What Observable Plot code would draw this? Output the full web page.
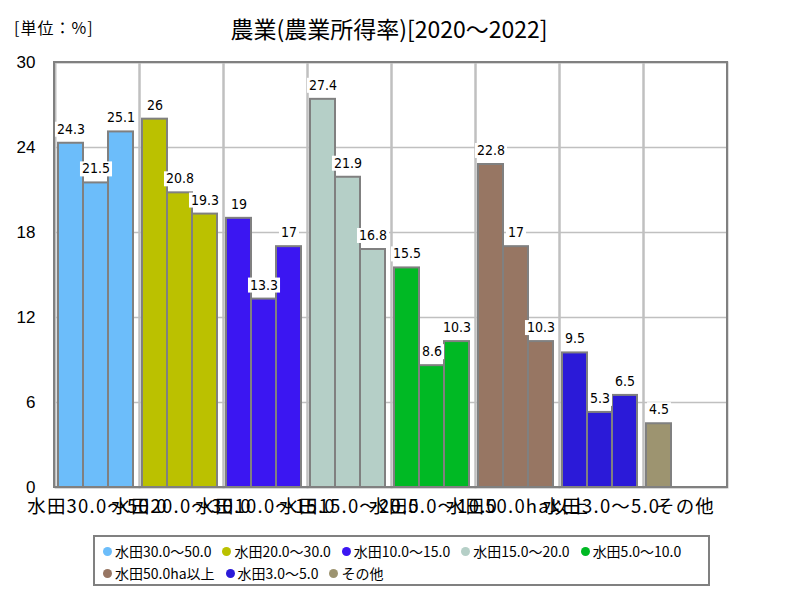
<!DOCTYPE html>
<html>
<head>
<meta charset="utf-8">
<script src="https://cdn.jsdelivr.net/npm/d3@7"></script>
<script src="https://cdn.jsdelivr.net/npm/@observablehq/plot@0.6"></script>
<style>
  html, body { margin: 0; padding: 0; background: #fff; }
  #wrap { position: relative; width: 800px; height: 600px; overflow: hidden; font-family: "Noto Sans CJK JP", sans-serif; }
  #unit { position: absolute; left: 14px; top: 15px; font-size: 16px; letter-spacing: 1px; color: #000; }
  #title { position: absolute; left: 0; width: 778px; top: 11px; text-align: center; font-size: 23px; color: #000; }
  #chart { position: absolute; left: 0; top: 0; }
  #legend { position: absolute; left: 93px; top: 535px; width: 605px; height: 44px; border: 2px solid #808080; padding: 3px 0 0 8px; display: flex; flex-wrap: wrap; column-gap: 11px; row-gap: 0px; font-size: 14px; line-height: 21px; background: #fff; }
  .item { display: flex; align-items: center; white-space: nowrap; }
  .dot { display: inline-block; width: 9px; height: 9px; border-radius: 50%; margin-right: 3px; }
</style>
</head>
<body>
<div id="wrap">
  <div id="chart"></div>
  <div id="unit">[単位：%]</div>
  <div id="title">農業(農業所得率)[2020〜2022]</div>
  <div id="legend"></div>
</div>
<script>
const categories = ["水田30.0〜50.0", "水田20.0〜30.0", "水田10.0〜15.0", "水田15.0〜20.0", "水田5.0〜10.0", "水田50.0ha以上", "水田3.0〜5.0", "その他"];
const years = ["2020", "2021", "2022"];
const v30to50 = [24.3, 21.5, 25.1];
const v20to30 = [26, 20.8, 19.3];
const v10to15 = [19, 13.3, 17];
const v15to20 = [27.4, 21.9, 16.8];
const v5to10 = [15.5, 8.6, 10.3];
const v50plus = [22.8, 17, 10.3];
const v3to5 = [9.5, 5.3, 6.5];
const vOther = [4.5];
const colors = ["#6CBDFA", "#BBC100", "#3B16F2", "#B5CFC7", "#00B924", "#977663", "#2B1AD8", "#9D9470"];
const yTicks = [0, 6, 12, 18, 24, 30];

const series = [v30to50, v20to30, v10to15, v15to20, v5to10, v50plus, v3to5, vOther];
const data = series.flatMap((vals, i) => vals.map((v, j) => ({cat: categories[i], year: years[j], value: v})));

const W = 800, H = 600, mL = 54, mR = 73, mT = 62, mB = 113;

const plot = Plot.plot({
  width: W, height: H,
  marginLeft: mL, marginRight: mR, marginTop: mT, marginBottom: mB,
  style: {fontFamily: "'Noto Sans CJK JP', sans-serif", fontSize: "18px", background: "transparent", overflow: "visible"},
  facet: {data: data, x: "cat"},
  fx: {domain: categories, padding: 0, axis: "bottom", label: null, tickSize: 0, tickPadding: 12},
  x: {domain: years, axis: null, paddingInner: 0, paddingOuter: 0.18, align: 1/3},
  y: {domain: [0, 30], ticks: yTicks, tickSize: 0, tickPadding: 20, label: null},
  color: {domain: categories, range: colors},
  marks: [
    Plot.ruleY(yTicks, {stroke: "#c0c0c0", strokeWidth: 1.5}),
    Plot.frame({stroke: "#c0c0c0", strokeWidth: 2}),
    Plot.barY(data, {x: "year", y: "value", fill: "cat", stroke: "#808080", strokeWidth: 2, insetLeft: 0, insetRight: 0}),
    Plot.text(data, {x: "year", y: "value", text: d => String(d.value), dy: -14, fontFamily: "'DejaVu Sans Condensed', sans-serif", fontSize: 14, fill: "#000"})
  ]
});

document.getElementById("chart").appendChild(plot);
const svg = d3.select(plot);

// axis label styling
svg.selectAll('g[aria-label^="y-axis"] text').style("font-size", "17px").attr("font-family", "'Liberation Sans', sans-serif");
svg.selectAll('g[aria-label^="fx-axis"] text').style("font-size", "18.5px").style("letter-spacing", "1.2px");

// white boxes behind the value labels
svg.selectAll('g[aria-label="text"] text').each(function() {
  const b = this.getBBox();
  const parent = this.parentNode;
  const r = document.createElementNS("http://www.w3.org/2000/svg", "rect");
  r.setAttribute("x", b.x - 2);
  r.setAttribute("y", b.y + 1);
  r.setAttribute("width", b.width + 4);
  r.setAttribute("height", b.height - 1);
  r.setAttribute("fill", "#fff");
  const tr = this.getAttribute("transform");
  if (tr) r.setAttribute("transform", tr);
  parent.insertBefore(r, this);
});

// outer plot-area border
svg.append("rect")
  .attr("x", mL).attr("y", mT)
  .attr("width", W - mL - mR).attr("height", H - mT - mB)
  .attr("fill", "none").attr("stroke", "#808080").attr("stroke-width", 2);

// legend
const legend = document.getElementById("legend");
categories.forEach((c, i) => {
  const it = document.createElement("div");
  it.className = "item";
  it.innerHTML = `<span class="dot" style="background:${colors[i]}"></span><span>${c}</span>`;
  legend.appendChild(it);
});
</script>
</body>
</html>
